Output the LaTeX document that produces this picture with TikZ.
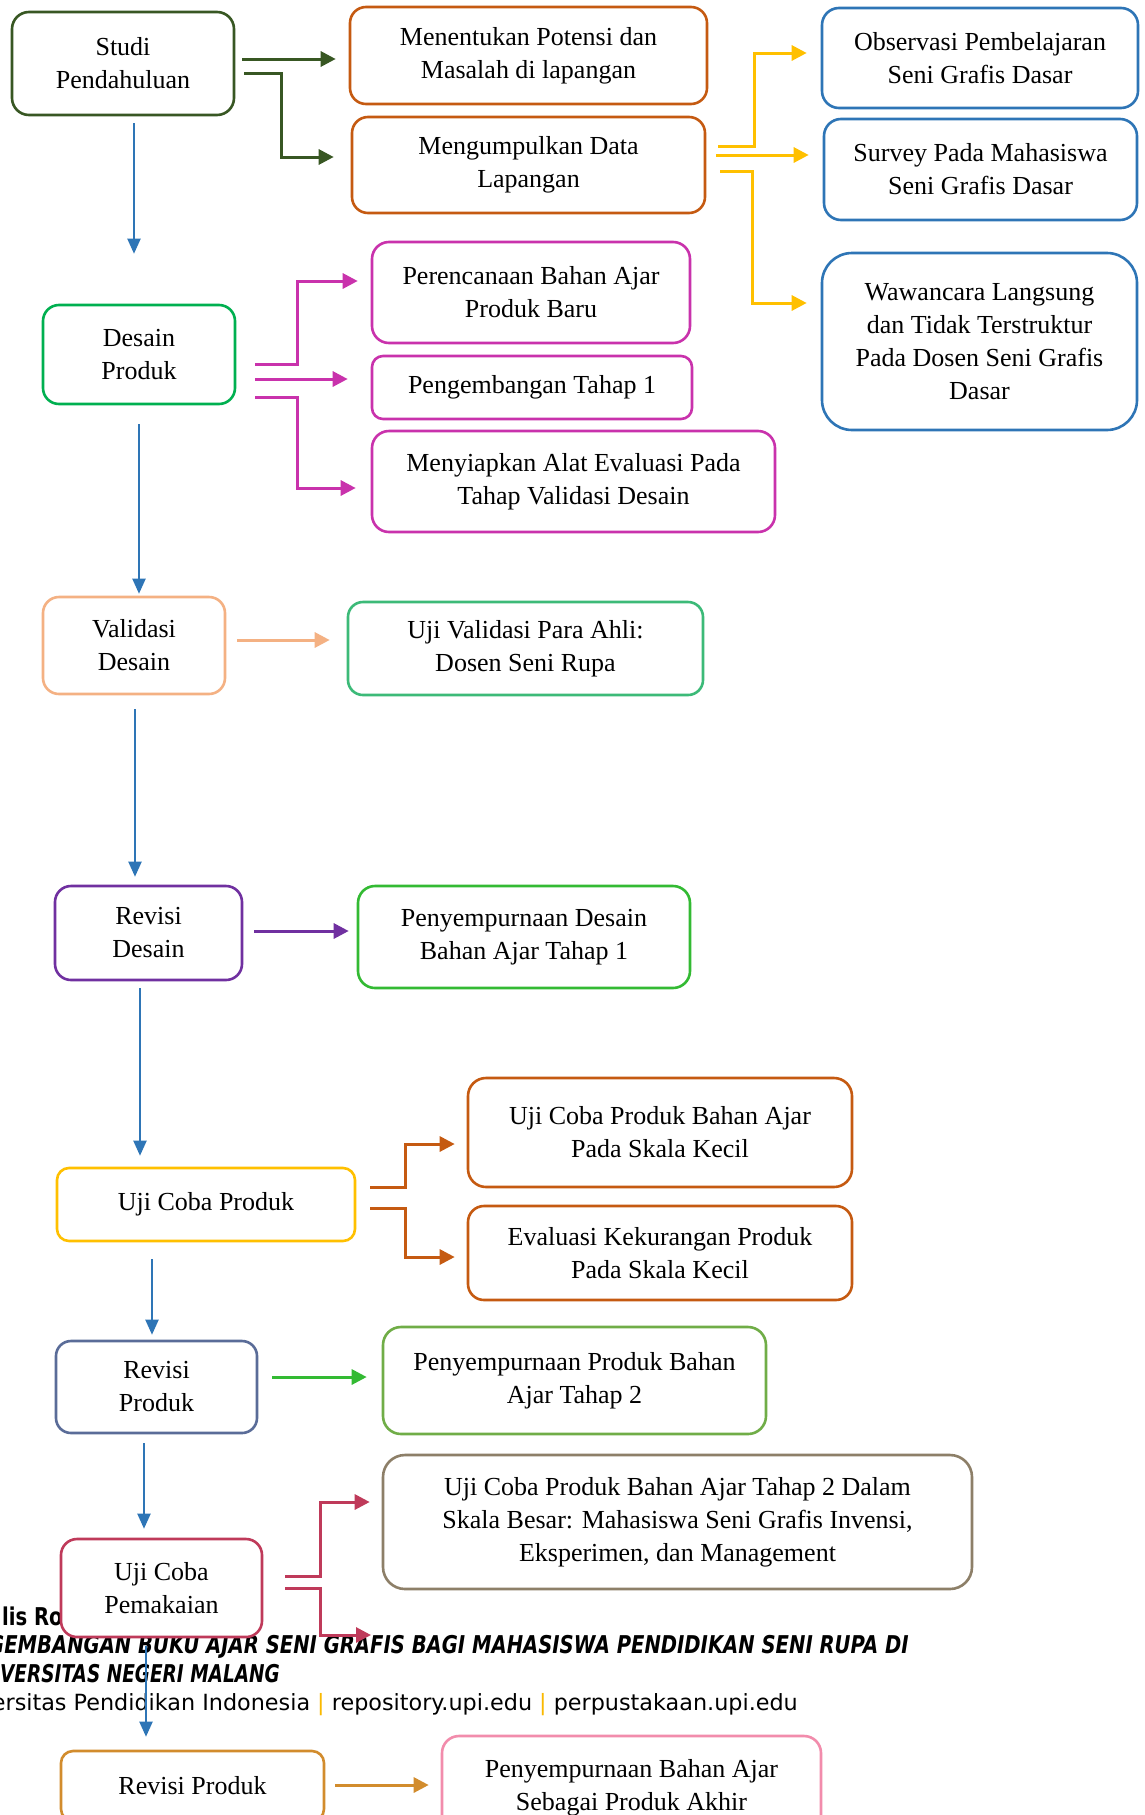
\documentclass[tikz,border=0pt]{standalone}
\usepackage{fontspec}
\setmainfont{Liberation Serif}
\newfontfamily\footfont{DejaVu Sans}
\newfontfamily\footfontb[FakeStretch=0.8]{DejaVu Sans}
\newfontfamily\footfontc[FakeStretch=0.755]{DejaVu Sans}
\usetikzlibrary{arrows.meta}
\definecolor{cOlive}{RGB}{56,87,35}
\definecolor{cOrange}{RGB}{197,90,17}
\definecolor{cBlue}{RGB}{46,117,182}
\definecolor{cYellow}{RGB}{255,192,0}
\definecolor{cGreen}{RGB}{0,176,80}
\definecolor{cMagenta}{RGB}{201,50,172}
\definecolor{cPeach}{RGB}{244,177,131}
\definecolor{cTeal}{RGB}{60,186,120}
\definecolor{cPurple}{RGB}{112,48,160}
\definecolor{cBright}{RGB}{51,186,51}
\definecolor{cSlate}{RGB}{90,108,152}
\definecolor{cLeaf}{RGB}{112,173,71}
\definecolor{cTan}{RGB}{141,127,104}
\definecolor{cCrimson}{RGB}{191,58,90}
\definecolor{cGold}{RGB}{210,140,45}
\definecolor{cPink}{RGB}{242,140,172}
\definecolor{cBar}{RGB}{250,185,0}
\begin{document}
\begin{tikzpicture}[x=1pt,y=-1pt,
  bx/.style={draw=#1, fill=white, line width=2.6pt, align=center, inner sep=0pt,
    font=\fontsize{26}{33}\selectfont},
  conn/.style={draw=#1, line width=3pt, -{Triangle[length=15pt,width=15pt]}},
  vconn/.style={draw=cBlue, line width=2pt, -{Triangle[length=15pt,width=13pt]}},
  foot/.style={inner sep=0pt, font=\footfont\fontsize{22.3}{26}\selectfont},
  footb/.style={inner sep=0pt, font=\footfontb\bfseries\fontsize{24.5}{28}\selectfont},
  footc/.style={inner sep=0pt, font=\footfontc\bfseries\fontsize{24.5}{28}\selectfont}
]
\useasboundingbox (0,0) rectangle (1144,1815);
\clip (0,0) rectangle (1144,1815);
\fill[white] (0,0) rectangle (1144,1815);

% footer text of the underlying page
\node[footb, anchor=base west] (f1) at (2,1625) {lis Ro};
\node[footb, anchor=base east] (f2) at (909,1653) {\itshape GEMBANGAN BUKU AJAR SENI GRAFIS BAGI MAHASISWA PENDIDIKAN SENI RUPA DI};
\node[footc, anchor=base east] (f3) at (280,1682) {\itshape VERSITAS NEGERI MALANG};
\node[foot, anchor=base east] (f4) at (798,1710) {ersitas Pendidikan Indonesia \textcolor{cBar}{|} repository.upi.edu \textcolor{cBar}{|} perpustakaan.upi.edu};

% boxes
\node[bx=cOlive, minimum width=222, minimum height=103, rounded corners=17] (studi) at (123,63.5) {Studi\\Pendahuluan};
\node[bx=cOrange, minimum width=357, minimum height=97, rounded corners=16] (menentukan) at (528.5,55.5) {Menentukan Potensi dan\\Masalah di lapangan};
\node[bx=cOrange, minimum width=353, minimum height=96, rounded corners=16] (mengumpulkan) at (528.5,165) {Mengumpulkan Data\\Lapangan};
\node[bx=cBlue, minimum width=316, minimum height=100, rounded corners=17] (observasi) at (980,58) {Observasi Pembelajaran\\Seni Grafis Dasar};
\node[bx=cBlue, minimum width=313, minimum height=101, rounded corners=17] (survey) at (980.5,169.5) {Survey Pada Mahasiswa\\Seni Grafis Dasar};
\node[bx=cBlue, minimum width=315, minimum height=177, rounded corners=30] (wawancara) at (979.5,341.5) {Wawancara Langsung\\dan Tidak Terstruktur\\Pada Dosen Seni Grafis\\Dasar};
\node[bx=cGreen, minimum width=192, minimum height=99, rounded corners=16] (desain) at (139,354.5) {Desain\\Produk};
\node[bx=cMagenta, minimum width=318, minimum height=101, rounded corners=17] (perencanaan) at (531,292.5) {Perencanaan Bahan Ajar\\Produk Baru};
\node[bx=cMagenta, minimum width=320, minimum height=63, rounded corners=11] (pengembangan) at (532,387.5) {Pengembangan Tahap 1};
\node[bx=cMagenta, minimum width=403, minimum height=101, rounded corners=17] (menyiapkan) at (573.5,481.5) {Menyiapkan Alat Evaluasi Pada\\Tahap Validasi Desain};
\node[bx=cPeach, minimum width=182, minimum height=97, rounded corners=16] (validasi) at (134,645.5) {Validasi\\Desain};
\node[bx=cTeal, minimum width=355, minimum height=93, rounded corners=15] (ujivalid) at (525.5,648.5) {Uji Validasi Para Ahli:\\Dosen Seni Rupa};
\node[bx=cPurple, minimum width=187, minimum height=94, rounded corners=16] (revisidesain) at (148.5,933) {Revisi\\Desain};
\node[bx=cBright, minimum width=332, minimum height=102, rounded corners=17] (penyempurnaan1) at (524,937) {Penyempurnaan Desain\\Bahan Ajar Tahap 1};
\node[bx=cYellow, minimum width=298, minimum height=73, rounded corners=12] (ujicoba) at (206,1204.5) {Uji Coba Produk};
\node[bx=cOrange, minimum width=384, minimum height=109, rounded corners=18] (ujicobakecil) at (660,1132.5) {Uji Coba Produk Bahan Ajar\\Pada Skala Kecil};
\node[bx=cOrange, minimum width=384, minimum height=94, rounded corners=16] (evaluasi) at (660,1253) {Evaluasi Kekurangan Produk\\Pada Skala Kecil};
\node[bx=cSlate, minimum width=201, minimum height=92, rounded corners=15] (revisiproduk) at (156.5,1387) {Revisi\\Produk};
\node[bx=cLeaf, minimum width=383, minimum height=107, rounded corners=18] (penyempurnaan2) at (574.5,1380.5) {Penyempurnaan Produk Bahan\\Ajar Tahap 2};
\node[bx=cTan, minimum width=589, minimum height=134, rounded corners=22] (ujibesar) at (677.5,1522) {Uji Coba Produk Bahan Ajar Tahap 2 Dalam\\Skala Besar: Mahasiswa Seni Grafis Invensi,\\Eksperimen, dan Management};
\node[bx=cCrimson, minimum width=201, minimum height=98, rounded corners=16] (pemakaian) at (161.5,1588) {Uji Coba\\Pemakaian};
\node[bx=cGold, minimum width=263, minimum height=70, rounded corners=12] (revisiakhir) at (192.5,1786) {Revisi Produk};
\node[bx=cPink, minimum width=379, minimum height=104, rounded corners=17] (penyempurnaanakhir) at (631.5,1788) {Penyempurnaan Bahan Ajar\\Sebagai Produk Akhir};

\coordinate (c2end) at (371,1635);

% connectors
\draw[conn=cOlive] ([shift={(7,-4.5)}]studi.east) -- ([shift={(-13,3.5)}]menentukan.west);
\draw[conn=cOlive] ([shift={(9,9.5)}]studi.east) -- ++(37,0) |- ([shift={(-17,-8)}]mengumpulkan.west);
\draw[conn=cYellow] ([shift={(12,-19)}]mengumpulkan.east) -- ++(36,0) |- ([shift={(-14,-5)}]observasi.west);
\draw[conn=cYellow] ([shift={(10,-10)}]mengumpulkan.east) -- ([shift={(-14,-14.5)}]survey.west);
\draw[conn=cYellow] ([shift={(14,6)}]mengumpulkan.east) -- ++(32,0) |- ([shift={(-14,-38.5)}]wawancara.west);
\draw[vconn] ([shift={(11,7)}]studi.south) -- ([shift={(-5,-50)}]desain.north);
\draw[conn=cMagenta] ([shift={(19,9.5)}]desain.east) -- ++(42,0) |- ([shift={(-13,-11.5)}]perencanaan.west);
\draw[conn=cMagenta] ([shift={(19,24.5)}]desain.east) -- ([shift={(-23,-8.5)}]pengembangan.west);
\draw[conn=cMagenta] ([shift={(19,42.5)}]desain.east) -- ++(42,0) |- ([shift={(-15,6.5)}]menyiapkan.west);
\draw[vconn] ([shift={(0,19)}]desain.south) -- ([shift={(5,-2)}]validasi.north);
\draw[conn=cPeach] ([shift={(11,-5.5)}]validasi.east) -- ([shift={(-17,-8.5)}]ujivalid.west);
\draw[vconn] ([shift={(1,14)}]validasi.south) -- ([shift={(-13.5,-8)}]revisidesain.north);
\draw[conn=cPurple] ([shift={(11,-2)}]revisidesain.east) -- ([shift={(-8,-6)}]penyempurnaan1.west);
\draw[vconn] ([shift={(-8.5,7)}]revisidesain.south) -- ([shift={(-66,-11)}]ujicoba.north);
\draw[conn=cOrange] ([shift={(14,-17.5)}]ujicoba.east) -- ++(35,0) |- ([shift={(-12,11.5)}]ujicobakecil.west);
\draw[conn=cOrange] ([shift={(14,3.5)}]ujicoba.east) -- ++(35,0) |- ([shift={(-12,4)}]evaluasi.west);
\draw[vconn] ([shift={(-54,17)}]ujicoba.south) -- ([shift={(-4.5,-5)}]revisiproduk.north);
\draw[conn=cBright] ([shift={(14,-10)}]revisiproduk.east) -- ([shift={(-15,-3.5)}]penyempurnaan2.west);
\draw[vconn] ([shift={(-12.5,9)}]revisiproduk.south) -- ([shift={(-17.5,-9)}]pemakaian.north);
\draw[conn=cCrimson] ([shift={(22,-12)}]pemakaian.east) -- ++(35,0) |- ([shift={(-12,-20)}]ujibesar.west);
\draw[conn=cCrimson] ([shift={(22,0)}]pemakaian.east) -- ++(35,0) |- (c2end);
\draw[vconn] ([shift={(-15.5,8)}]pemakaian.south) -- ([shift={(-46.5,-13)}]revisiakhir.north);
\draw[conn=cGold] ([shift={(10,-1)}]revisiakhir.east) -- ([shift={(-12,-3)}]penyempurnaanakhir.west);
\end{tikzpicture}
\end{document}
